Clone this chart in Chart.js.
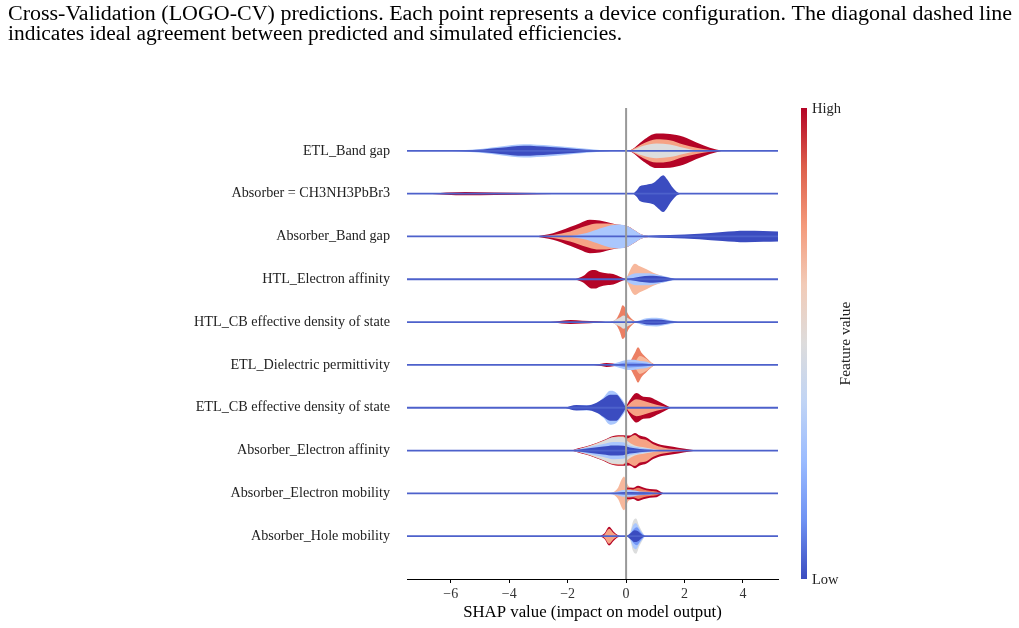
<!DOCTYPE html>
<html>
<head>
<meta charset="utf-8">
<script src="https://cdn.jsdelivr.net/npm/chart.js@4.4.1/dist/chart.umd.min.js"></script>
<style>
  html, body { margin: 0; padding: 0; background: #ffffff; }
  #wrap { width: 1019px; height: 628px; position: relative; }
</style>
</head>
<body>
<div id="wrap"><canvas id="c" width="1019" height="628"></canvas></div>
<script>
// ---------------- DATA ----------------
const captionLines = [
  'Cross-Validation (LOGO-CV) predictions. Each point represents a device configuration. The diagonal dashed line',
  'indicates ideal agreement between predicted and simulated efficiencies.'
];

const features = [
  'ETL_Band gap',
  'Absorber = CH3NH3PbBr3',
  'Absorber_Band gap',
  'HTL_Electron affinity',
  'HTL_CB effective density of state',
  'ETL_Dielectric permittivity',
  'ETL_CB effective density of state',
  'Absorber_Electron affinity',
  'Absorber_Electron mobility',
  'Absorber_Hole mobility'
];

const xTicks = [-6, -4, -2, 0, 2, 4];
const xRange = [-7.5, 5.2];

// feature-value bins (0 = low, 7 = high) -> coolwarm colours
const binColors = ['#3b4cc0', '#7396f5', '#aac7fd', '#dcdddd', '#f7b89c', '#f6a385', '#ec7f63', '#b40426'];
const colorbarStops = ['#3b4cc0', '#6f92f3', '#9abbff', '#c0d4f5', '#dddcdc', '#f2cbb7', '#f49a7b', '#dd5f4b', '#b40426'];

// layered violin densities: [SHAP value, relative density], layers listed bottom -> top
const etlBandGap = [
  { bin: 2, d: [[-6.1,0],[-4.9,0.12],[-4.3,0.24],[-3.5,0.37],[-2.6,0.3],[-1.8,0.18],[-0.9,0.05],[0,0]] },
  { bin: 0, d: [[-6.0,0],[-4.9,0.08],[-4.3,0.17],[-3.5,0.28],[-2.6,0.21],[-1.8,0.12],[-0.9,0.03],[-0.1,0]] },
  { bin: 7, d: [[0.05,0],[0.2,0.08],[0.59,0.59],[1.04,0.96],[1.5,0.94],[1.96,0.78],[2.41,0.46],[2.87,0.17],[3.3,0]] },
  { bin: 5, d: [[0.1,0],[0.3,0.15],[0.59,0.41],[1.04,0.65],[1.5,0.59],[1.96,0.35],[2.41,0.17],[2.87,0.05],[3.1,0]] },
  { bin: 3, d: [[0.15,0],[0.36,0.13],[0.59,0.28],[1.04,0.41],[1.5,0.35],[1.96,0.17],[2.41,0.02],[2.6,0]] }
];
const absorberMAPbBr3 = [
  { bin: 7, d: [[-6.8,0],[-5.5,0.09],[-4.5,0.07],[-3,0.03],[-2,0]] },
  { bin: 0, d: [[0.25,0],[0.36,0.17],[0.47,0.41],[0.7,0.5],[0.93,0.59],[1.1,0.82],[1.27,1.02],[1.41,0.78],[1.56,0.41],[1.73,0.11],[1.85,0]] }
];
const absorberBandGap = [
  { bin: 7, d: [[-3.1,0],[-2.5,0.18],[-1.92,0.52],[-1.58,0.74],[-1.24,0.93],[-0.9,0.89],[-0.67,0.8],[-0.33,0.67],[0.02,0.59],[0.3,0.33],[0.53,0.11],[0.85,0]] },
  { bin: 5, d: [[-3.0,0],[-2.5,0.08],[-1.92,0.28],[-1.35,0.59],[-1.01,0.72],[-0.67,0.72],[-0.33,0.67],[0.02,0.59],[0.3,0.33],[0.53,0.11],[0.85,0]] },
  { bin: 2, d: [[-2.0,0],[-1.35,0.19],[-0.9,0.44],[-0.55,0.61],[-0.21,0.67],[0.02,0.59],[0.3,0.33],[0.53,0.11],[0.85,0]] },
  { bin: 0, d: [[0.5,0],[0.8,0.04],[1.5,0.08],[2.5,0.15],[3.3,0.25],[4.1,0.32],[4.7,0.3],[5.3,0.27]] }
];
const htlElectronAffinity = [
  { bin: 7, d: [[-1.75,0],[-1.47,0.18],[-1.24,0.48],[-1.07,0.52],[-0.9,0.41],[-0.67,0.33],[-0.44,0.29],[-0.21,0.14],[0,0]] },
  { bin: 4, d: [[0,0],[0.07,0.28],[0.3,0.87],[0.47,0.72],[0.7,0.56],[0.93,0.36],[1.16,0.22],[1.39,0.11],[1.65,0]] },
  { bin: 2, d: [[-0.05,0],[0.05,0.15],[0.35,0.33],[0.7,0.33],[1.04,0.26],[1.39,0.14],[1.75,0]] },
  { bin: 0, d: [[0.05,0],[0.2,0.06],[0.47,0.14],[0.81,0.19],[1.04,0.18],[1.39,0.11],[1.7,0]] }
];
const htlCbDensity = [
  { bin: 7, d: [[-2.6,0],[-2.2,0.08],[-1.9,0.11],[-1.5,0.08],[-1.0,0.04],[-0.7,0]] },
  { bin: 6, d: [[-0.55,0],[-0.33,0.18],[-0.21,0.56],[-0.12,0.94],[-0.04,0.83],[0.07,0.44],[0.24,0.11],[0.35,0]] },
  { bin: 3, d: [[-0.5,0],[-0.44,0.06],[-0.21,0.25],[-0.09,0.37],[0.07,0.22],[0.24,0.06],[0.32,0]] },
  { bin: 2, d: [[0.15,0],[0.35,0.05],[0.7,0.22],[1.04,0.24],[1.39,0.15],[1.8,0]] },
  { bin: 0, d: [[0.2,0],[0.4,0.04],[0.7,0.13],[1.04,0.15],[1.39,0.09],[1.75,0]] }
];
const etlDielectric = [
  { bin: 7, d: [[-1.1,0],[-0.85,0.06],[-0.67,0.11],[-0.44,0.08],[-0.2,0]] },
  { bin: 6, d: [[0.05,0],[0.13,0.17],[0.3,0.67],[0.41,0.98],[0.53,0.67],[0.7,0.39],[0.93,0.06],[1.0,0]] },
  { bin: 4, d: [[0.15,0],[0.3,0.15],[0.47,0.5],[0.7,0.33],[0.87,0.11],[0.95,0]] },
  { bin: 2, d: [[-0.55,0],[-0.44,0.06],[-0.21,0.17],[0.07,0.28],[0.24,0.28],[0.47,0.22],[0.7,0.17],[0.93,0.03],[1.0,0]] },
  { bin: 1, d: [[-0.4,0],[-0.2,0.08],[0.1,0.14],[0.4,0.12],[0.7,0.08],[0.9,0]] }
];
const etlCbDensity = [
  { bin: 2, d: [[-2.1,0],[-1.81,0.11],[-1.47,0.15],[-1.13,0.17],[-0.78,0.56],[-0.55,0.94],[-0.38,0.89],[-0.21,0.61],[-0.04,0.22],[0.02,0]] },
  { bin: 0, d: [[-2.1,0],[-1.7,0.15],[-1.35,0.13],[-1.01,0.28],[-0.78,0.5],[-0.55,0.72],[-0.33,0.72],[-0.15,0.39],[0,0]] },
  { bin: 7, d: [[-0.02,0],[0.13,0.44],[0.36,0.82],[0.59,0.61],[0.81,0.58],[1.04,0.41],[1.27,0.22],[1.5,0.03],[1.55,0]] },
  { bin: 5, d: [[0,0],[0.13,0.25],[0.36,0.47],[0.59,0.39],[0.81,0.28],[1.04,0.17],[1.27,0.08],[1.45,0]] }
];
const absorberElectronAffinity = [
  { bin: 7, d: [[-1.85,0],[-1.81,0.03],[-1.24,0.29],[-0.78,0.57],[-0.44,0.81],[-0.1,0.85],[0.13,0.83],[0.3,0.98],[0.47,0.83],[0.7,0.72],[0.93,0.47],[1.27,0.29],[1.61,0.21],[1.96,0.11],[2.3,0.03],[2.4,0]] },
  { bin: 5, d: [[-1.8,0],[-1.24,0.26],[-0.78,0.54],[-0.44,0.76],[-0.1,0.79],[0.02,0.67],[0.3,0.86],[0.47,0.67],[0.7,0.59],[0.93,0.35],[1.27,0.17],[1.61,0.08],[1.96,0.03],[2.1,0]] },
  { bin: 3, d: [[-1.85,0],[-1.24,0.25],[-0.78,0.53],[-0.44,0.74],[-0.1,0.75],[0.02,0.56],[0.3,0.28],[0.64,0.17],[0.93,0.08],[1.27,0]] },
  { bin: 2, d: [[-1.85,0],[-1.35,0.17],[-0.78,0.36],[-0.44,0.48],[-0.1,0.46],[0.13,0.28],[0.47,0.17],[0.81,0.08],[1.1,0]] },
  { bin: 0, d: [[-1.85,0],[-1.35,0.11],[-0.78,0.22],[-0.44,0.28],[-0.1,0.26],[0.13,0.17],[0.47,0.09],[0.81,0.04],[1.1,0]] }
];
const absorberElectronMobility = [
  { bin: 4, d: [[-0.55,0],[-0.44,0.06],[-0.27,0.33],[-0.15,0.78],[-0.07,0.94],[0.0,0.72],[0.07,0.44],[0.24,0.28],[0.35,0]] },
  { bin: 7, d: [[-0.05,0],[0.02,0.33],[0.24,0.31],[0.41,0.43],[0.59,0.33],[0.81,0.24],[1.04,0.21],[1.21,0.06],[1.3,0]] },
  { bin: 6, d: [[0.0,0],[0.05,0.25],[0.24,0.22],[0.41,0.31],[0.59,0.22],[0.81,0.15],[1.04,0.11],[1.2,0]] },
  { bin: 2, d: [[-0.6,0],[-0.55,0.03],[-0.33,0.09],[-0.09,0.19],[0.15,0.19],[0.47,0.11],[0.81,0.08],[1.05,0]] },
  { bin: 0, d: [[-0.5,0],[-0.3,0.04],[0,0.07],[0.4,0.06],[0.8,0.05],[1.1,0]] }
];
const absorberHoleMobility = [
  { bin: 7, d: [[-0.88,0],[-0.73,0.17],[-0.58,0.52],[-0.44,0.28],[-0.3,0.08],[-0.2,0]] },
  { bin: 5, d: [[-0.8,0],[-0.73,0.11],[-0.58,0.42],[-0.44,0.19],[-0.33,0.06],[-0.25,0]] },
  { bin: 3, d: [[0.03,0],[0.14,0.22],[0.24,0.83],[0.34,0.98],[0.45,0.56],[0.56,0.22],[0.65,0]] },
  { bin: 2, d: [[0.05,0],[0.14,0.17],[0.24,0.61],[0.34,0.72],[0.45,0.44],[0.56,0.17],[0.65,0]] },
  { bin: 1, d: [[0.07,0],[0.14,0.11],[0.26,0.39],[0.37,0.5],[0.48,0.28],[0.6,0.05],[0.65,0]] },
  { bin: 0, d: [[0.03,0],[0.07,0.06],[0.19,0.22],[0.29,0.33],[0.41,0.28],[0.53,0.11],[0.63,0]] }
];

const featureLayers = [
  etlBandGap, absorberMAPbBr3, absorberBandGap, htlElectronAffinity, htlCbDensity,
  etlDielectric, etlCbDensity, absorberElectronAffinity, absorberElectronMobility, absorberHoleMobility
];

// ---------------- BUILD ----------------
const SERIF = '"Liberation Serif", "Times New Roman", serif';
const HALF = 0.42;           // max half-height of a violin in row units
const nF = features.length;
const datasets = [];

featureLayers.forEach((layers, i) => {
  const yc = nF - 1 - i;
  layers.forEach(layer => {
    [1, -1].forEach(sign => {
      datasets.push({
        data: layer.d.map(([x, v]) => ({ x: x, y: yc + sign * v * HALF })),
        fill: { value: yc },
        backgroundColor: binColors[layer.bin],
        borderWidth: 0,
        pointRadius: 0,
        cubicInterpolationMode: 'monotone'
      });
    });
  });
});
// row lines
features.forEach((f, i) => {
  const yc = nF - 1 - i;
  datasets.push({
    data: [{ x: xRange[0], y: yc }, { x: xRange[1], y: yc }],
    borderColor: '#4d61cb', borderWidth: 1.8, pointRadius: 0, fill: false
  });
});
// zero line
datasets.push({
  data: [{ x: 0, y: -1 }, { x: 0, y: nF }],
  borderColor: '#999999', borderWidth: 2, pointRadius: 0, fill: false
});
// later datasets on top
datasets.forEach((d, i) => { d.order = datasets.length - i; });

const extras = {
  id: 'extras',
  afterDraw(chart) {
    const ctx = chart.ctx;
    const area = chart.chartArea;
    ctx.save();
    // caption
    ctx.fillStyle = '#000';
    ctx.font = '20px ' + SERIF;
    ctx.textBaseline = 'alphabetic';
    ctx.textAlign = 'left';
    const targets = [[8, 19.5, 1004], [8, 40, 614]];
    captionLines.forEach((t, k) => {
      const w = ctx.measureText(t).width;
      ctx.save();
      ctx.translate(targets[k][0], targets[k][1]);
      ctx.scale(targets[k][2] / w, 1);
      ctx.fillText(t, 0, 0);
      ctx.restore();
    });
    // colorbar
    const cbX = 801, cbW = 6, top = area.top, bot = area.bottom;
    const g = ctx.createLinearGradient(0, bot, 0, top);
    colorbarStops.forEach((c, k) => g.addColorStop(k / (colorbarStops.length - 1), c));
    ctx.fillStyle = g;
    ctx.fillRect(cbX, top, cbW, bot - top);
    ctx.fillStyle = '#222';
    ctx.font = '14.5px ' + SERIF;
    ctx.textBaseline = 'middle';
    ctx.fillText('High', cbX + 11, top + 1);
    ctx.fillText('Low', cbX + 11, bot + 1);
    ctx.save();
    ctx.translate(846, (top + bot) / 2);
    ctx.rotate(-Math.PI / 2);
    ctx.textAlign = 'center';
    ctx.font = '15.5px ' + SERIF;
    ctx.fillText('Feature value', 0, 0);
    ctx.restore();
    ctx.restore();
  }
};

new Chart(document.getElementById('c'), {
  type: 'line',
  data: { datasets },
  options: {
    responsive: false,
    animation: false,
    events: [],
    layout: { padding: { top: 108, right: 241, bottom: 0, left: 0 } },
    plugins: { legend: { display: false }, tooltip: { enabled: false } },
    scales: {
      x: {
        type: 'linear',
        min: xRange[0], max: xRange[1],
        afterBuildTicks: s => { s.ticks = xTicks.map(v => ({ value: v })); },
        afterFit: s => { s.height = 49; },
        ticks: {
          font: { family: SERIF, size: 14 }, color: '#333', padding: 3,
          callback: v => String(v).replace('-', '\u2212')
        },
        grid: { drawOnChartArea: false, tickLength: 4, tickColor: '#000', tickWidth: 1 },
        border: { display: true, color: '#000', width: 1 },
        title: {
          display: true, text: 'SHAP value (impact on model output)',
          font: { family: SERIF, size: 16.8 }, color: '#000', padding: { top: 0, bottom: 5 }
        }
      },
      y: {
        type: 'linear',
        min: -1, max: nF,
        afterBuildTicks: s => { s.ticks = features.map((f, i) => ({ value: i })); },
        afterFit: s => { s.width = 407; },
        ticks: {
          font: { family: SERIF, size: 14.2 }, color: '#222', padding: 17,
          callback: v => features[nF - 1 - v]
        },
        grid: { display: false, drawTicks: false },
        border: { display: false }
      }
    }
  },
  plugins: [extras]
});
</script>
</body>
</html>
